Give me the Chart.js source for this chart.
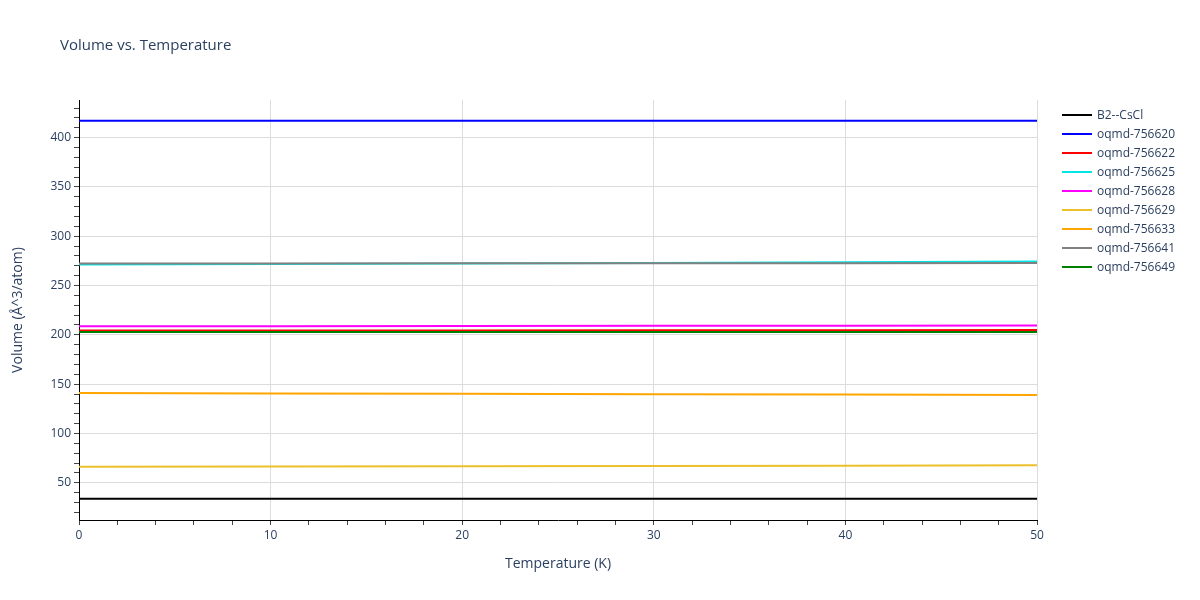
<!DOCTYPE html>
<html lang="en">
<head>
  <meta charset="UTF-8" />
  <title>Volume vs. Temperature</title>
  <script src="https://cdn.jsdelivr.net/npm/chart.js"></script>
  <style>
    html, body { margin: 0; padding: 0; background: #fff; }
    #wrap { position: relative; width: 1200px; height: 600px; font-family: "Open Sans", sans-serif; color: #2a3f5f; }
    #chart { position: absolute; left: 0; top: 0; }
    #title { position: absolute; left: 60px; top: 34px; font-size: 15px; color: #2a3f5f; }
    #legend { position: absolute; left: 1062px; top: 105px; font-size: 12px; }
    .item { display: flex; align-items: center; height: 19px; }
    .swatch { width: 30px; height: 2px; margin-right: 5px; }
  </style>
</head>
<body>
  <div id="wrap">
    <canvas id="chart" width="1200" height="600"></canvas>
    <div id="title">Volume vs. Temperature</div>
    <div id="legend"></div>
  </div>

  <script>
    // temperatures (K)
    const temps = [0, 10, 20, 30, 40, 50];

    const names = ['B2--CsCl', 'oqmd-756620', 'oqmd-756622', 'oqmd-756625', 'oqmd-756628',
                   'oqmd-756629', 'oqmd-756633', 'oqmd-756641', 'oqmd-756649'];
    const colors = ['#000000', '#0000ff', '#ff0000', '#00e5e5', '#ff00ff',
                    '#ecc02a', '#ffa500', '#808080', '#008000'];

    // volume per atom (Å^3/atom)
    const b2CsCl   = [33.7, 33.7, 33.7, 33.7, 33.7, 33.7];
    const v756620  = [417.2, 417.2, 417.2, 417.2, 417.2, 417.2];
    const v756622  = [204.4, 204.5, 204.5, 204.6, 204.7, 204.8];
    const v756625  = [271.4, 271.8, 272.3, 272.9, 273.6, 274.5];
    const v756628  = [208.7, 208.8, 208.9, 209.1, 209.3, 209.5];
    const v756629  = [66.1, 66.4, 66.7, 67.0, 67.3, 67.7];
    const v756633  = [141.0, 140.6, 140.2, 139.8, 139.4, 138.9];
    const v756641  = [272.3, 272.4, 272.5, 272.6, 272.7, 272.8];
    const v756649  = [202.9, 202.9, 202.9, 202.9, 202.9, 202.9];
    const series = [b2CsCl, v756620, v756622, v756625, v756628, v756629, v756633, v756641, v756649];

    const yMin = 12.2, yMax = 438.2;
    const textColor = '#2a3f5f';
    const gridColor = '#dcdcdc';

    const datasets = names.map((n, i) => ({
      label: n,
      data: temps.map((t, k) => ({ x: t, y: series[i][k] })),
      borderColor: colors[i],
      backgroundColor: colors[i],
      borderWidth: 2,
      pointRadius: 0,
      tension: 0,
      order: names.length - i
    }));

    // html legend
    const legend = document.getElementById('legend');
    names.forEach((n, i) => {
      legend.innerHTML += `<div class="item"><div class="swatch" style="background:${colors[i]}"></div>${n}</div>`;
    });

    new Chart(document.getElementById('chart'), {
      type: 'line',
      data: { datasets },
      options: {
        responsive: false,
        animation: false,
        layout: { padding: { left: 0, top: 100, right: 163, bottom: 20 } },
        plugins: { legend: { display: false }, tooltip: { enabled: false } },
        scales: {
          x: {
            type: 'linear',
            min: 0,
            max: 50,
            afterFit: s => { s.height = 60; },
            afterBuildTicks: s => {
              const t = [];
              for (let v = 0; v <= 50; v += 2) t.push({ value: v });
              s.ticks = t;
            },
            border: { color: '#000', width: 1 },
            grid: {
              color: c => (c.tick && c.tick.value % 10 === 0) ? gridColor : 'rgba(0,0,0,0)',
              tickColor: '#444',
              tickLength: 5
            },
            ticks: {
              autoSkip: false,
              maxRotation: 0,
              padding: 3,
              color: textColor,
              font: { family: 'Open Sans', size: 12 },
              callback: v => (v % 10 === 0 ? v : '')
            },
            title: {
              display: true,
              text: 'Temperature (K)',
              color: textColor,
              font: { family: 'Open Sans', size: 14 },
              padding: { top: 4, bottom: 8 }
            }
          },
          y: {
            type: 'linear',
            min: yMin,
            max: yMax,
            afterFit: s => { s.width = 79; },
            afterBuildTicks: s => {
              const t = [];
              for (let v = Math.ceil(yMin / 10) * 10; v <= yMax; v += 10) t.push({ value: v });
              s.ticks = t;
            },
            border: { color: '#000', width: 1 },
            grid: {
              color: c => (c.tick && c.tick.value % 50 === 0) ? gridColor : 'rgba(0,0,0,0)',
              tickColor: '#444',
              tickLength: 5
            },
            ticks: {
              autoSkip: false,
              padding: 3,
              color: textColor,
              font: { family: 'Open Sans', size: 12 },
              callback: v => (v % 50 === 0 ? v : '')
            },
            title: {
              display: true,
              text: 'Volume (Å^3/atom)',
              color: textColor,
              font: { family: 'Open Sans', size: 14 },
              padding: { top: 10, bottom: 4 }
            }
          }
        }
      }
    });
  </script>
</body>
</html>
